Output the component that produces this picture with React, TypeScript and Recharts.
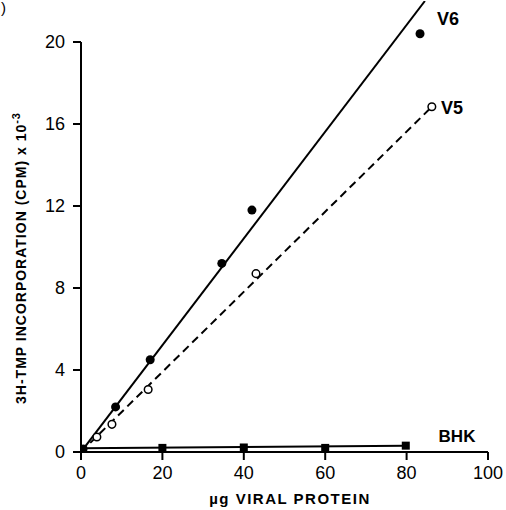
import React from 'react';
import { ComposedChart, Line, Scatter, XAxis, YAxis, ReferenceLine } from 'recharts';

const xTicks = [0, 20, 40, 60, 80, 100];
const yTicks = [0, 4, 8, 12, 16, 20];

const v6Points = [
  { x: 0.5, y: 0.15 },
  { x: 8.5, y: 2.2 },
  { x: 17, y: 4.5 },
  { x: 34.6, y: 9.2 },
  { x: 42, y: 11.8 },
  { x: 83.3, y: 20.4 },
];
const v5Points = [
  { x: 3.9, y: 0.73 },
  { x: 7.6, y: 1.35 },
  { x: 16.5, y: 3.05 },
  { x: 43, y: 8.7 },
  { x: 86.2, y: 16.84 },
];
const bhkPoints = [
  { x: 20, y: 0.2 },
  { x: 40, y: 0.22 },
  { x: 60, y: 0.2 },
  { x: 79.8, y: 0.31 },
];
const v6Fit = [
  { x: 0, y: 0 },
  { x: 84.5, y: 22 },
];
const v5Fit = [
  { x: 0, y: 0 },
  { x: 86.2, y: 16.84 },
];
const bhkFit = [
  { x: 0, y: 0.18 },
  { x: 79.8, y: 0.31 },
];

const FONT = '"Liberation Sans", Arial, sans-serif';

const FilledCircle = (p: any) => <circle cx={p.cx} cy={p.cy} r={4.5} fill="#000" />;
const OpenCircle = (p: any) => (
  <circle cx={p.cx} cy={p.cy} r={3.8} fill="#fff" stroke="#000" strokeWidth={1.5} />
);
const Square = (p: any) => <rect x={p.cx - 4} y={p.cy - 4} width={8} height={8} fill="#000" />;

export default function App() {
  return (
    <div style={{ position: 'absolute', left: 0, top: 0, width: 506, height: 510, background: '#fff' }}>
      <ComposedChart
        width={506}
        height={510}
        margin={{ top: 1, right: 18, bottom: 0, left: 0 }}
      >
        <XAxis
          type="number"
          dataKey="x"
          domain={[0, 100]}
          ticks={xTicks}
          allowDataOverflow
          height={58}
          stroke="#000"
          strokeWidth={2}
          tickSize={8}
          tickMargin={6}
          tick={{ fill: '#000', fontSize: 18, fontFamily: FONT }}
          tickLine={{ stroke: '#000', strokeWidth: 2 }}
        />
        <YAxis
          type="number"
          dataKey="y"
          domain={[0, 22]}
          ticks={yTicks}
          allowDataOverflow
          width={81}
          axisLine={false}
          tickSize={8}
          tickMargin={8}
          tick={{ fill: '#000', fontSize: 18, fontFamily: FONT }}
          tickLine={{ stroke: '#000', strokeWidth: 2 }}
        />
        <ReferenceLine
          segment={[{ x: 0, y: -0.1 }, { x: 0, y: 20 }]}
          stroke="#000"
          strokeWidth={2}
          ifOverflow="visible"
        />
        <Line data={v6Fit} dataKey="y" stroke="#000" strokeWidth={2} dot={false} isAnimationActive={false} />
        <Line data={v5Fit} dataKey="y" stroke="#000" strokeWidth={2} strokeDasharray="8 5" dot={false} isAnimationActive={false} />
        <Line data={bhkFit} dataKey="y" stroke="#000" strokeWidth={2} dot={false} isAnimationActive={false} />
        <Scatter data={v6Points} dataKey="y" shape={FilledCircle} isAnimationActive={false} />
        <Scatter data={v5Points} dataKey="y" shape={OpenCircle} isAnimationActive={false} />
        <Scatter data={bhkPoints} dataKey="y" shape={Square} isAnimationActive={false} />
      </ComposedChart>
      <svg width={506} height={510} style={{ position: 'absolute', left: 0, top: 0, pointerEvents: 'none' }}>
        <g fontFamily={FONT} fill="#000">
          <text x={1} y={13} fontSize={15}>)</text>
          <text x={448} y={25} fontSize={18} fontWeight="bold" textAnchor="middle">V6</text>
          <text x={452} y={114} fontSize={18} fontWeight="bold" textAnchor="middle">V5</text>
          <text x={457} y={442} fontSize={17} fontWeight="bold" textAnchor="middle">BHK</text>
          <text x={290} y={504} fontSize={15} fontWeight="bold" textAnchor="middle" letterSpacing={1.5}>µg VIRAL PROTEIN</text>
          <text
            x={0}
            y={0}
            fontSize={14}
            fontWeight="bold"
            textAnchor="middle"
            letterSpacing={1}
            transform="translate(26 258) rotate(-90)"
          >
            3H-TMP INCORPORATION (CPM) x 10<tspan dy={-6} fontSize={11}>-3</tspan>
          </text>
        </g>
      </svg>
    </div>
  );
}
